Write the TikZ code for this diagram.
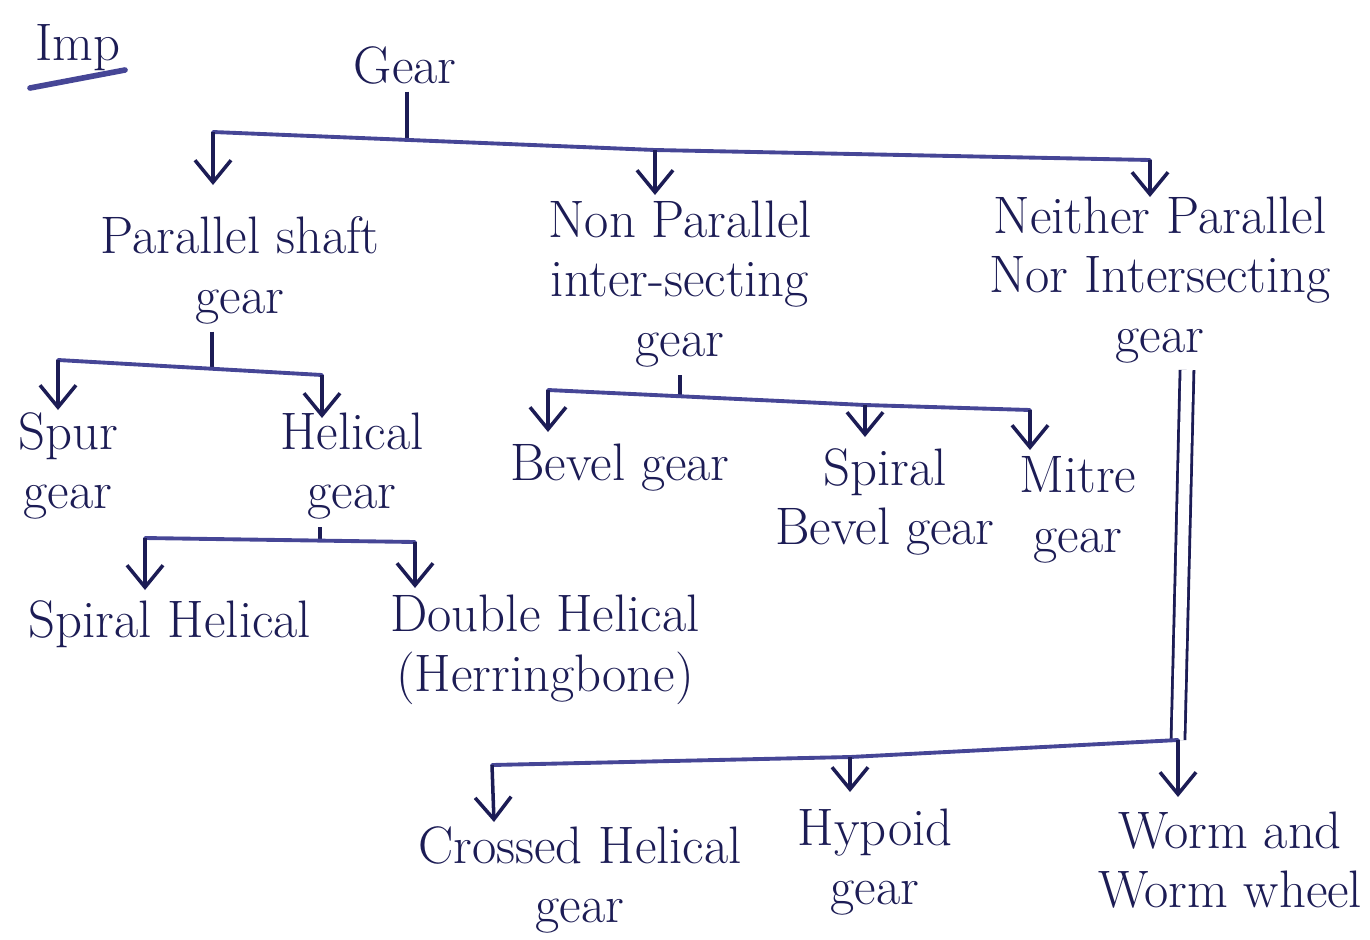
\documentclass[tikz,border=0pt]{standalone}
\usetikzlibrary{arrows.meta}
\definecolor{ink}{RGB}{28,28,85}
\definecolor{pen}{RGB}{70,70,150}
\begin{document}
\begin{tikzpicture}[x=0.01cm,y=-0.01cm,
  lbl/.style={text=ink,align=center,font=\fontsize{15}{17}\selectfont,inner sep=2pt},
  bar/.style={draw=pen,line width=1.1pt,line cap=round},
  stem/.style={draw=ink,line width=1pt},
  arr/.style={draw=ink,line width=1pt,-{Straight Barb[length=2.2mm,width=3.6mm]}},
  dbl/.style={draw=ink,line width=0.8pt,double=white,double distance=1.1mm}]
\useasboundingbox (0,0) rectangle (1370,939);
% nodes
\node[lbl] (imp) at (78,48) {Imp};
\node[lbl] (gear) at (405,65) {Gear};
\node[lbl] (psg) at (240,270) {Parallel shaft\\gear};
\node[lbl] (npi) at (680,284) {Non Parallel\\inter-secting\\gear};
\node[lbl] (npn) at (1160,280) {Neither Parallel\\Nor Intersecting\\gear};
\node[lbl] (spur) at (68,466) {Spur\\gear};
\node[lbl] (helical) at (352,466) {Helical\\gear};
\node[lbl] (sphel) at (170,624) {Spiral Helical};
\node[lbl] (dhel) at (545,650) {Double Helical\\(Herringbone)};
\node[lbl] (bevel) at (620,468) {Bevel gear};
\node[lbl] (sbevel) at (885,502) {Spiral\\Bevel gear};
\node[lbl] (mitre) at (1078,510) {Mitre\\gear};
\node[lbl] (crossed) at (580,880) {Crossed Helical\\gear};
\node[lbl] (hypoid) at (875,862) {Hypoid\\gear};
\node[lbl] (worm) at (1230,860) {Worm and\\Worm wheel};
% coordinates
\coordinate (u1) at (30,88); \coordinate (u2) at (125,70);
\coordinate (t0) at (407,140);
\coordinate (t1) at (213,132); \coordinate (t2) at (655,150); \coordinate (t3) at (1150,160);
\coordinate (a1) at (213,185); \coordinate (a2) at (655,195); \coordinate (a3) at (1150,197);
\coordinate (p0) at (212,370);
\coordinate (p1) at (58,360); \coordinate (p2) at (322,375);
\coordinate (b1) at (58,410); \coordinate (b2) at (322,418);
\coordinate (h0) at (320,540);
\coordinate (h1) at (145,538); \coordinate (h2) at (415,542);
\coordinate (e1) at (145,590); \coordinate (e2) at (415,588);
\coordinate (n0) at (680,398);
\coordinate (n1) at (548,390); \coordinate (n2) at (865,405); \coordinate (n3) at (1030,410);
\coordinate (m1) at (548,432); \coordinate (m2) at (865,437); \coordinate (m3) at (1030,450);
\coordinate (d0) at (1187,370);
\coordinate (c1) at (492,765); \coordinate (c2) at (850,757); \coordinate (c3) at (1178,740);
\coordinate (k1) at (494,822); \coordinate (k2) at (850,792); \coordinate (k3) at (1178,797);
% underline
\draw[bar,line width=1.6pt] (u1) -- (u2);
% top level
\draw[stem] (t0 |- gear.south) -- (t0);
\draw[bar] (t1) -- (t2) -- (t3);
\draw[arr] (t1) -- (a1);
\draw[arr] (t2) -- (a2);
\draw[arr] (t3) -- (a3);
% parallel shaft
\draw[stem] (p0 |- psg.south) -- (p0);
\draw[bar] (p1) -- (p2);
\draw[arr] (p1) -- (b1);
\draw[arr] (p2) -- (b2);
% helical
\draw[stem] (h0 |- helical.south) -- (h0);
\draw[bar] (h1) -- (h2);
\draw[arr] (h1) -- (e1);
\draw[arr] (h2) -- (e2);
% non parallel intersecting
\draw[stem] (n0 |- npi.south) -- (n0);
\draw[bar] (n1) -- (n2) -- (n3);
\draw[arr] (n1) -- (m1);
\draw[arr] (n2) -- (m2);
\draw[arr] (n3) -- (m3);
% neither parallel nor intersecting
\draw[dbl] (d0) -- (c3);
\draw[bar] (c1) -- (c2) -- (c3);
\draw[arr] (c1) -- (k1);
\draw[arr] (c2) -- (k2);
\draw[arr] (c3) -- (k3);
\end{tikzpicture}
\end{document}
